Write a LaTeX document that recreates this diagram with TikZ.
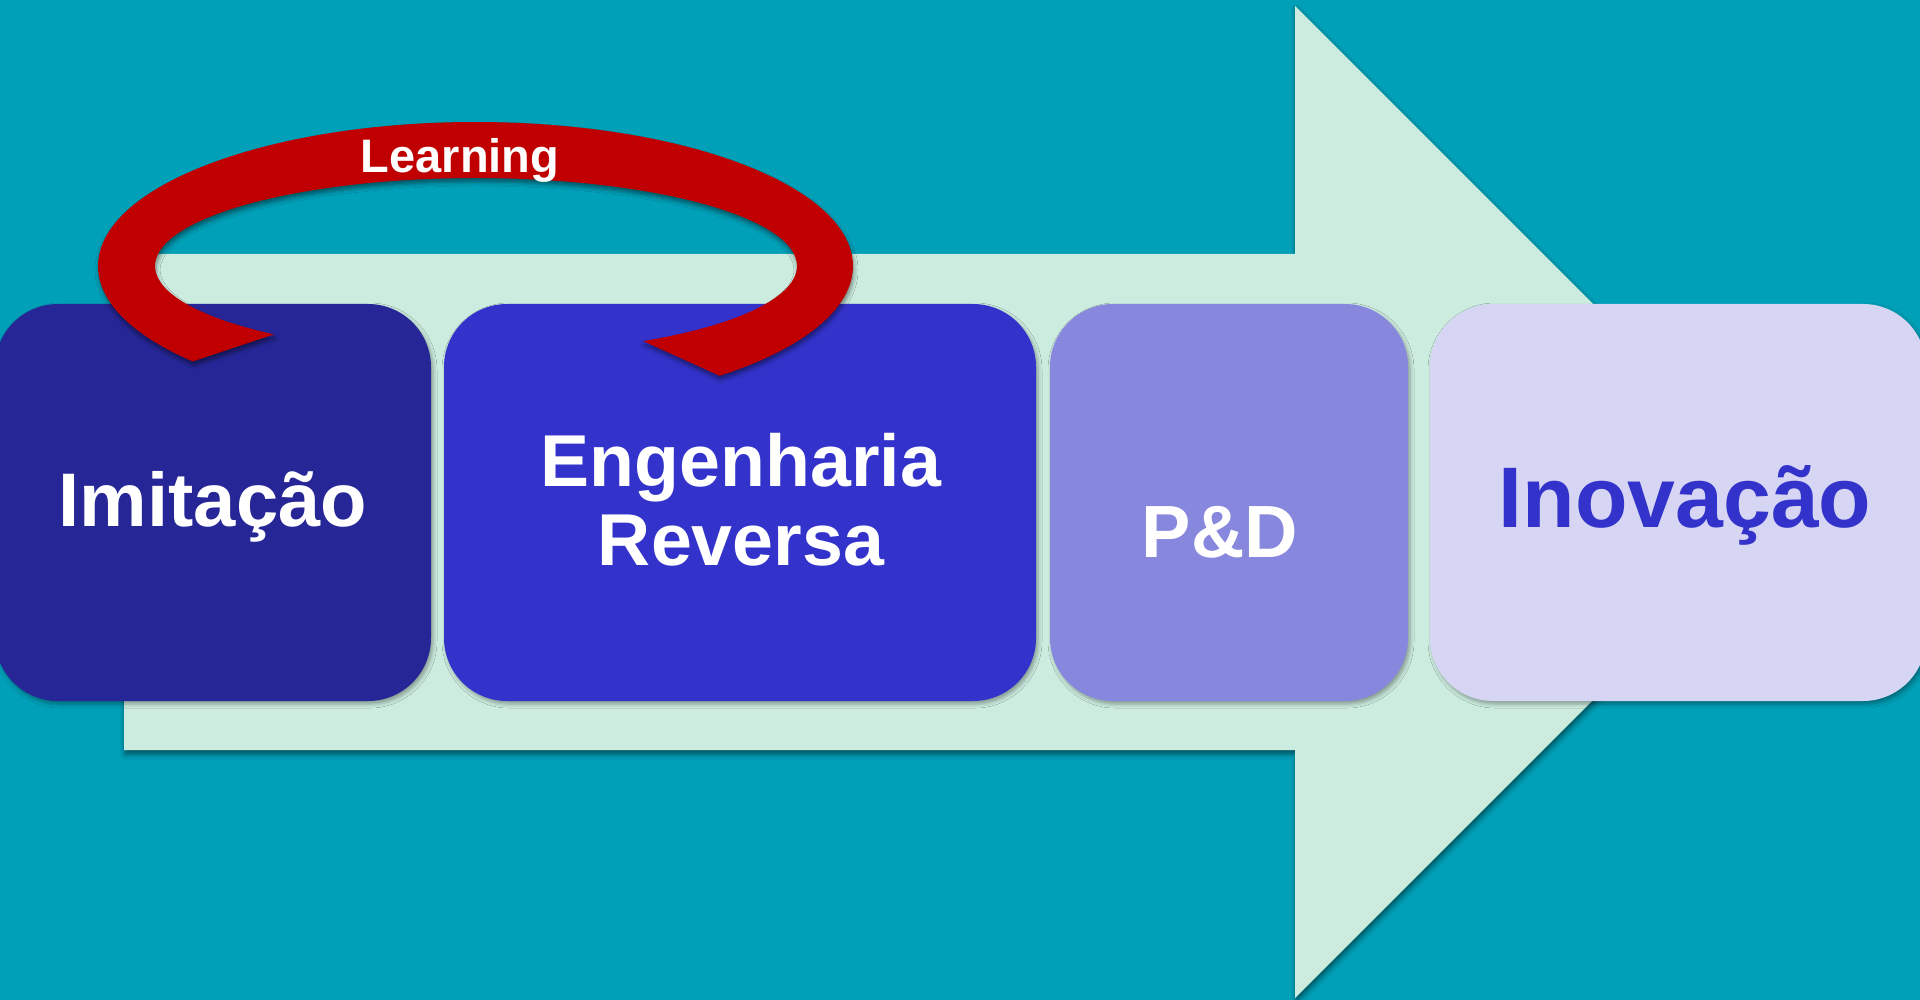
\documentclass[tikz,border=0pt]{standalone}
\usepackage{fontspec}
\setmainfont{Liberation Sans}
\usetikzlibrary{calc,shadows.blur}
\definecolor{bgteal}{RGB}{0,160,184}
\definecolor{mint}{RGB}{204,236,223}
\definecolor{imitcol}{RGB}{38,38,150}
\definecolor{engcol}{RGB}{51,51,204}
\definecolor{pdcol}{RGB}{135,135,222}
\definecolor{inovcol}{RGB}{214,214,244}
\definecolor{learnred}{RGB}{192,0,0}
\begin{document}
\begin{tikzpicture}[x=1pt,y=1pt,
  stagebox/.style={rectangle, rounded corners=63pt, minimum height=397pt, inner sep=0pt,
    blur shadow={shadow xshift=2pt, shadow yshift=-3pt, shadow blur radius=4pt, shadow opacity=35}},
  lbl/.style={anchor=base, inner sep=0pt}]
\useasboundingbox (0,-1000) rectangle (1920,0);
\clip (0,-1000) rectangle (1920,0);
\fill[bgteal] (0,-1000) rectangle (1920,0);
% big process arrow
\fill[mint, blur shadow={shadow xshift=1pt, shadow yshift=-4pt, shadow blur radius=5pt, shadow opacity=50}]
  (124,-254) -- (1295,-254) -- (1295,-6) -- (1791,-502) -- (1295,-998) -- (1295,-750) -- (124,-750) -- cycle;
% stage boxes
\node[stagebox, fill=imitcol, minimum width=436pt] (imit) at (213,-502.5) {};
\node[stagebox, fill=engcol, minimum width=592pt] (eng) at (740,-502.5) {};
\node[stagebox, fill=pdcol, minimum width=358pt] (pd) at (1229,-502.5) {};
\node[stagebox, fill=inovcol, minimum width=496pt] (inov) at (1678,-502.5) {};
% texts
\node[lbl, text=white, font=\bfseries\fontsize{76}{80}\selectfont] (timit) at (213,-526) {Imitação};
\node[lbl, text=white, font=\bfseries\fontsize{73.5}{78}\selectfont] (teng1) at (741,-486) {Engenharia};
\node[lbl, text=white, font=\bfseries\fontsize{73.5}{78}\selectfont] (teng2) at (741,-565) {Reversa};
\node[lbl, text=white, font=\bfseries\fontsize{74}{78}\selectfont] (tpd) at (1220,-557) {P\&D};
\node[lbl, text=engcol, font=\bfseries\fontsize{86}{90}\selectfont] (tinov) at (1685,-527.7) {Inovação};
% learning loop
\coordinate (oc) at (475.5,-266);
\coordinate (ic) at (476,-266);
\fill[learnred, blur shadow={shadow xshift=1pt, shadow yshift=-4pt, shadow blur radius=4pt, shadow opacity=45}]
  ($(oc)+(221.5:377.5pt and 144pt)$) arc[start angle=221.5, end angle=-49.7, x radius=377.5pt, y radius=144pt]
  -- ($(ic)+(-58.6:321pt and 88pt)$) arc[start angle=-58.6, end angle=231, x radius=321pt, y radius=88pt] -- cycle;
\node[lbl, text=white, font=\bfseries\fontsize{47}{50}\selectfont] (learn) at (460,-173) {Learning};
\end{tikzpicture}
\end{document}
